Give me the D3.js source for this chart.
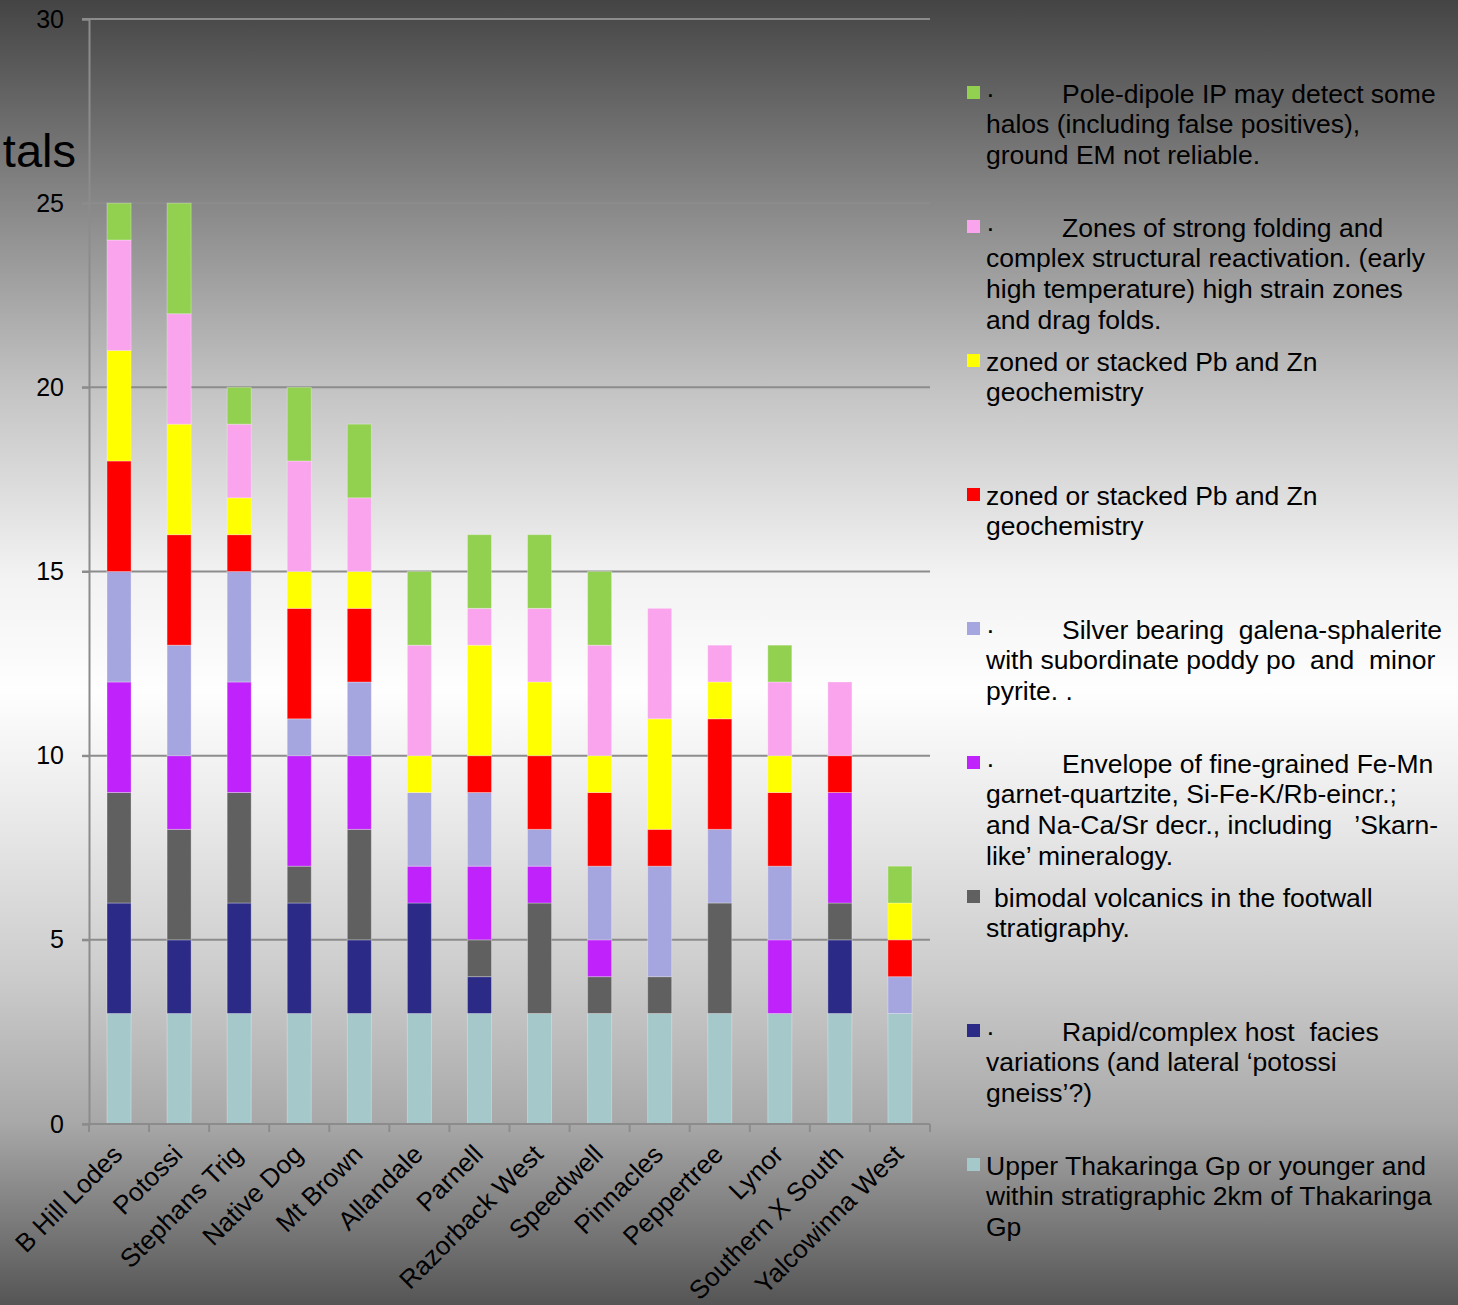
<!DOCTYPE html>
<html>
<head>
<meta charset="utf-8">
<script src="https://cdn.jsdelivr.net/npm/d3@7"></script>
<style>
  html, body { margin: 0; padding: 0; }
  body { width: 1458px; height: 1305px; overflow: hidden; }
  svg { display: block; font-family: "Liberation Sans", Arial, sans-serif; }
</style>
</head>
<body>
<svg id="chart" width="1458" height="1305"></svg>
<script>
// Prospects scored against exploration criteria (stacked totals)
const categories = ["B Hill Lodes", "Potossi", "Stephans Trig", "Native Dog", "Mt Brown", "Allandale",
  "Parnell", "Razorback West", "Speedwell", "Pinnacles", "Peppertree", "Lynor", "Southern X South", "Yalcowinna West"];

// Series, bottom of the stack first
const thakaringa = [3, 3, 3, 3, 3, 3, 3, 3, 3, 3, 3, 3, 3, 3];
const hostFacies = [3, 2, 3, 3, 2, 3, 1, 0, 0, 0, 0, 0, 2, 0];
const bimodal    = [3, 3, 3, 1, 3, 0, 1, 3, 1, 1, 3, 0, 1, 0];
const envelope   = [3, 2, 3, 3, 2, 1, 2, 1, 1, 0, 0, 2, 3, 0];
const silver     = [3, 3, 3, 1, 2, 2, 2, 1, 2, 3, 2, 2, 0, 1];
const pbZnRed    = [3, 3, 1, 3, 2, 0, 1, 2, 2, 1, 3, 2, 1, 1];
const pbZnYellow = [3, 3, 1, 1, 1, 1, 3, 2, 1, 3, 1, 1, 0, 1];
const folding    = [3, 3, 2, 3, 2, 3, 1, 2, 3, 3, 1, 2, 2, 0];
const poleDipole = [1, 3, 1, 2, 2, 2, 2, 2, 2, 0, 0, 1, 0, 1];

const yTicks = [0, 5, 10, 15, 20, 25, 30];

const seriesKeys = ["thak", "host", "bimodal", "envelope", "silver", "red", "yellow", "folding", "ip"];
const seriesValues = [thakaringa, hostFacies, bimodal, envelope, silver, pbZnRed, pbZnYellow, folding, poleDipole];
const seriesColors = ["#a5c8ca", "#2b2a86", "#606060", "#bf22fb", "#a5a5df", "#ff0000", "#ffff00", "#f9a4ec", "#92d050"];

// Legend text, one array of lines per series; lead = bullet followed by a tab gap
const legendText = {
  ip:       { lead: "·", lines: ["Pole-dipole IP may detect some", "halos (including false positives),", "ground EM not reliable."] },
  folding:  { lead: "·", lines: ["Zones of strong folding and", "complex structural reactivation. (early", "high temperature) high strain zones", "and drag folds."] },
  yellow:   { lead: null, lines: ["zoned or stacked Pb and Zn", "geochemistry"] },
  red:      { lead: null, lines: ["zoned or stacked Pb and Zn", "geochemistry"] },
  silver:   { lead: "·", lines: ["Silver bearing  galena-sphalerite", "with subordinate poddy po  and  minor", "pyrite. ."] },
  envelope: { lead: "·", lines: ["Envelope of fine-grained Fe-Mn", "garnet-quartzite, Si-Fe-K/Rb-eincr.;", "and Na-Ca/Sr decr., including   \u2019Skarn-", "like\u2019 mineralogy."] },
  bimodal:  { lead: null, indent: true, lines: ["bimodal volcanics in the footwall", "stratigraphy."] },
  host:     { lead: "·", lines: ["Rapid/complex host  facies", "variations (and lateral \u2018potossi", "gneiss\u2019?)"] },
  thak:     { lead: null, lines: ["Upper Thakaringa Gp or younger and", "within stratigraphic 2km of Thakaringa", "Gp"] }
};

const rows = categories.map((c, i) => {
  const r = { category: c };
  seriesKeys.forEach((k, j) => { r[k] = seriesValues[j][i]; });
  return r;
});

const svg = d3.select("#chart");

// Background: banded grey-white-grey vertical gradient
const defs = svg.append("defs");
const grad = defs.append("linearGradient").attr("id", "bg").attr("x1", 0).attr("y1", 0).attr("x2", 0).attr("y2", 1);
[[0, "#444444"], [0.15, "#858585"], [0.3, "#c4c4c4"], [0.44, "#f2f2f2"], [0.53, "#fefefe"],
 [0.64, "#e6e6e6"], [0.75, "#cbcbcb"], [0.86, "#a8a8a8"], [1, "#555555"]]
  .forEach(([o, c]) => grad.append("stop").attr("offset", o).attr("stop-color", c));
svg.append("rect").attr("width", 1458).attr("height", 1305).attr("fill", "url(#bg)");

const x = d3.scaleBand().domain(categories).range([89, 930]).paddingInner(0.6).paddingOuter(0.3);
const y = d3.scaleLinear().domain([0, 30]).range([1124, 19]);

// Gridlines
svg.append("g")
  .selectAll("line").data(yTicks.filter(t => t > 0)).join("line")
  .attr("x1", 82).attr("x2", 930)
  .attr("y1", d => y(d)).attr("y2", d => y(d))
  .attr("stroke", "#8c8c8c").attr("stroke-width", 2);

// Y axis
const yAxis = svg.append("g").attr("transform", "translate(89,0)")
  .call(d3.axisLeft(y).tickValues(yTicks).tickSize(7).tickPadding(18));
yAxis.select(".domain").attr("stroke", "#8c8c8c").attr("stroke-width", 2);
yAxis.selectAll(".tick line").attr("stroke", "#8c8c8c").attr("stroke-width", 2);
yAxis.selectAll(".tick text").attr("font-size", 25).attr("fill", "#000")
  .attr("font-family", "Liberation Sans, Arial, sans-serif");

// Stacked bars
const stack = d3.stack().keys(seriesKeys)(rows);
const color = d3.scaleOrdinal().domain(seriesKeys).range(seriesColors);
svg.append("g").selectAll("g").data(stack).join("g")
  .attr("fill", d => color(d.key))
  .selectAll("rect").data(d => d.filter(p => p[1] > p[0])).join("rect")
  .attr("x", d => x(d.data.category))
  .attr("width", x.bandwidth())
  .attr("y", d => y(d[1]))
  .attr("height", d => y(d[0]) - y(d[1]))
  .attr("stroke", "rgba(255,255,255,0.3)").attr("stroke-width", 1);

// X axis baseline with boundary ticks
const xg = svg.append("g");
xg.append("line").attr("x1", 82).attr("x2", 930).attr("y1", y(0)).attr("y2", y(0))
  .attr("stroke", "#8c8c8c").attr("stroke-width", 2);
const step = x.step();
xg.selectAll("line.tk").data(d3.range(categories.length + 1)).join("line").attr("class", "tk")
  .attr("x1", i => 89 + i * step).attr("x2", i => 89 + i * step)
  .attr("y1", y(0)).attr("y2", y(0) + 8)
  .attr("stroke", "#8c8c8c").attr("stroke-width", 2);
xg.selectAll("text").data(categories).join("text")
  .attr("transform", d => `translate(${x(d) + x.bandwidth() / 2 + 5},${y(0) + 32}) rotate(-45)`)
  .attr("text-anchor", "end")
  .attr("font-size", 26).attr("fill", "#000")
  .text(d => d);

// Axis title fragment at the left edge
svg.append("text").attr("x", 76).attr("y", 167).attr("text-anchor", "end")
  .attr("font-size", 47).attr("fill", "#000").text("tals");

// Legend
const legendOrder = seriesKeys.slice().reverse();
const lg = svg.append("g");
legendOrder.forEach((k, i) => {
  const cy = 93 + i * 134;
  const g = lg.append("g");
  g.append("rect").attr("x", 967).attr("y", cy - 7).attr("width", 13).attr("height", 13).attr("fill", color(k));
  const info = legendText[k];
  const t = g.append("text").attr("font-size", 26.5).attr("fill", "#000").attr("xml:space", "preserve");
  info.lines.forEach((line, j) => {
    const base = cy + 9.5 + j * 30.8;
    if (j === 0 && info.lead) {
      t.append("tspan").attr("x", 986).attr("y", base).text(info.lead);
      t.append("tspan").attr("x", 1062).attr("y", base).text(line);
    } else {
      t.append("tspan").attr("x", (j === 0 && info.indent) ? 994 : 986).attr("y", base).text(line);
    }
  });
});
</script>
</body>
</html>
